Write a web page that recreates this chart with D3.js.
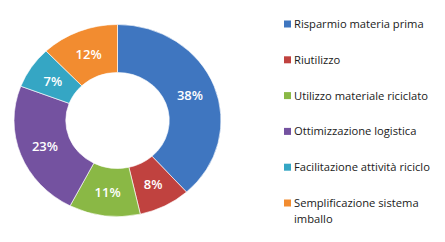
<!DOCTYPE html>
<html>
<head>
<meta charset="utf-8">
<script src="https://cdn.jsdelivr.net/npm/d3@7"></script>
<style>
  html, body { margin: 0; padding: 0; background: #fff; }
  svg { display: block; }
</style>
</head>
<body>
<svg id="chart" width="445" height="242"></svg>
<script>
// Share of interventions by type (percent)
const categories = [
  "Risparmio materia prima",
  "Riutilizzo",
  "Utilizzo materiale riciclato",
  "Ottimizzazione logistica",
  "Facilitazione attività riciclo",
  "Semplificazione sistema imballo"
];
const values = [38, 8, 11, 23, 7, 12];
const colors = ["#3f76c0", "#c0423f", "#8ab845", "#7452a0", "#35a6c4", "#f28c30"];
const legendLines = [
  ["Risparmio materia prima"],
  ["Riutilizzo"],
  ["Utilizzo materiale riciclato"],
  ["Ottimizzazione logistica"],
  ["Facilitazione attività riciclo"],
  ["Semplificazione sistema", "imballo"]
];

const svg = d3.select("#chart");
const data = categories.map((c, i) => ({ name: c, value: values[i], color: colors[i] }));

const cx = 117.5, cy = 120.5;
const outerR = 96, innerR = 48, stretchX = 1.078;

const pie = d3.pie().value(d => d.value).sort(null);
const arc = d3.arc().innerRadius(innerR).outerRadius(outerR);
const labelArc = d3.arc().innerRadius((innerR + outerR) / 2).outerRadius((innerR + outerR) / 2);
const arcs = pie(data);

const ring = svg.append("g")
  .attr("transform", `translate(${cx},${cy}) scale(${stretchX},1)`);

ring.selectAll("path")
  .data(arcs)
  .join("path")
  .attr("d", arc)
  .attr("fill", d => d.data.color)
  .attr("stroke", "#fff")
  .attr("stroke-width", 0.6);

// Percent labels, placed in screen space so the text is not stretched
svg.append("g")
  .selectAll("text")
  .data(arcs)
  .join("text")
  .attr("x", d => cx + labelArc.centroid(d)[0] * stretchX)
  .attr("y", d => cy + labelArc.centroid(d)[1])
  .attr("text-anchor", "middle")
  .attr("dominant-baseline", "central")
  .attr("fill", "#fff")
  .attr("font-family", "'Open Sans', sans-serif")
  .attr("font-weight", 600)
  .attr("font-size", 13)
  .text(d => d.data.value + "%");

// Legend
const legend = svg.append("g").attr("transform", "translate(284,0)");
const rowY = d3.scalePoint().domain(categories).range([24, 203]);

const rows = legend.selectAll("g")
  .data(data)
  .join("g")
  .attr("transform", d => `translate(0,${rowY(d.name)})`);

rows.append("rect")
  .attr("x", 0).attr("y", -3.5)
  .attr("width", 7).attr("height", 7)
  .attr("fill", d => d.color);

rows.append("text")
  .attr("x", 10)
  .attr("font-family", "'Open Sans', sans-serif")
  .attr("font-size", 11.2)
  .attr("fill", "#1a1a1a")
  .selectAll("tspan")
  .data((d, i) => legendLines[i].map((t, j) => ({ t, j })))
  .join("tspan")
  .attr("x", 10)
  .attr("dy", d => d.j === 0 ? "0.35em" : "1.4em")
  .text(d => d.t);
</script>
</body>
</html>
